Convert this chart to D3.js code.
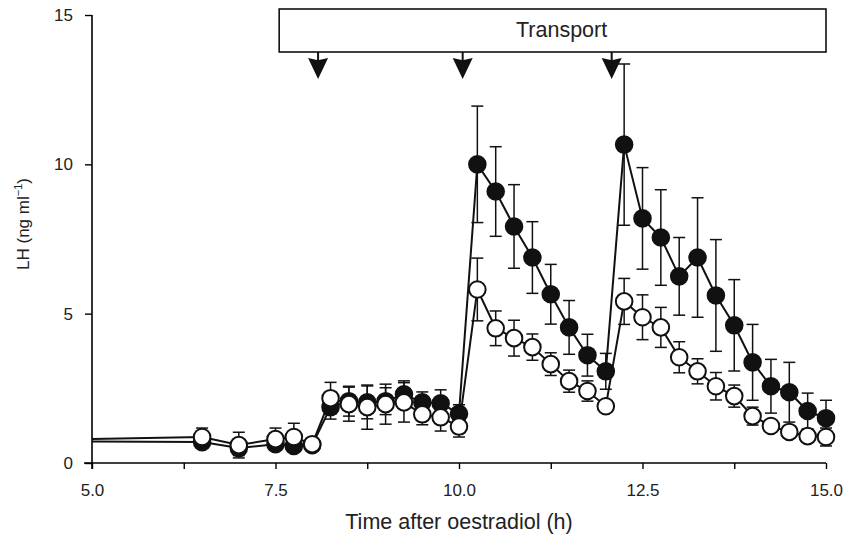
<!DOCTYPE html>
<html>
<head>
<meta charset="utf-8">
<script src="https://cdnjs.cloudflare.com/ajax/libs/d3/7.8.5/d3.min.js"></script>
<style>
  body { margin: 0; background: #fff; }
  svg { font-family: "Liberation Sans", Arial, sans-serif; }
</style>
</head>
<body>
<div id="chart"></div>
<script>
// sampling times (h after oestradiol)
var times = [5.0, 6.5, 7.0, 7.5, 7.75, 8.0, 8.25, 8.5, 8.75, 9.0, 9.25, 9.5, 9.75,
  10.0, 10.25, 10.5, 10.75, 11.0, 11.25, 11.5, 11.75, 12.0,
  12.25, 12.5, 12.75, 13.0, 13.25, 13.5, 13.75, 14.0, 14.25, 14.5, 14.75, 15.0];

// filled circles
var filledMean = [0.72, 0.7, 0.5, 0.63, 0.57, 0.6, 1.87, 2.07, 2.03, 2.07, 2.3, 2.03, 2.0,
  1.65, 10.0, 9.09, 7.92, 6.88, 5.65, 4.54, 3.61, 3.07,
  10.66, 8.19, 7.55, 6.25, 6.88, 5.61, 4.61, 3.37, 2.57, 2.37, 1.74, 1.5];
var filledSE = [0, 0.2, 0.25, 0.2, 0.2, 0.15, 0.4, 0.5, 0.55, 0.45, 0.45, 0.35, 0.45,
  0.3, 1.95, 1.5, 1.4, 1.2, 1.0, 0.9, 0.7, 0.6,
  2.7, 1.7, 1.6, 1.3, 2.0, 1.87, 1.53, 1.27, 0.9, 1.0, 0.6, 0.6];

// open circles
var openMean = [0.8, 0.87, 0.6, 0.8, 0.87, 0.63, 2.17, 1.97, 1.87, 1.97, 2.03, 1.63, 1.53,
  1.22, 5.81, 4.51, 4.18, 3.88, 3.31, 2.74, 2.41, 1.9,
  5.41, 4.88, 4.54, 3.54, 3.07, 2.57, 2.24, 1.57, 1.24, 1.04, 0.9, 0.87];
var openSE = [0, 0.3, 0.43, 0.37, 0.46, 0.15, 0.53, 0.57, 0.74, 0.67, 0.66, 0.35, 0.46,
  0.35, 1.05, 0.58, 0.6, 0.44, 0.38, 0.37, 0.34, 0.15,
  0.77, 0.75, 0.67, 0.52, 0.42, 0.46, 0.37, 0.3, 0.15, 0.15, 0.15, 0.3];

var xTicks = [5.0, 6.25, 7.5, 8.75, 10.0, 11.25, 12.5, 13.75, 15.0];
var xLabels = [5.0, 7.5, 10.0, 12.5, 15.0];
var yTicks = [0, 5, 10, 15];
var arrowTimes = [8.08, 10.05, 12.08];
var boxStart = 7.55, boxEnd = 15.0;

var W = 843, H = 536;
var svg = d3.select("#chart").append("svg")
    .attr("width", W).attr("height", H);

var x = d3.scaleLinear().domain([5, 15]).range([92, 826]);
var y = d3.scaleLinear().domain([0, 15]).range([463, 15]);

// axes
var xAxis = d3.axisBottom(x).tickValues(xTicks).tickSize(6)
    .tickFormat(function(d) { return xLabels.indexOf(d) >= 0 ? d3.format(".1f")(d) : ""; });
var gx = svg.append("g")
    .attr("transform", "translate(0," + y(0) + ")")
    .call(xAxis);
gx.select(".domain").attr("stroke-width", 1.6).attr("d", "M" + (x(5) - 8) + ",0H" + x(15));
gx.selectAll(".tick line").attr("stroke-width", 1.4);
gx.selectAll(".tick text").attr("dy", "1.4em").attr("font-size", 17).attr("fill", "#222");

var yAxis = d3.axisLeft(y).tickValues(yTicks).tickSize(7).tickFormat(d3.format("d"));
var gy = svg.append("g")
    .attr("transform", "translate(" + x(5) + ",0)")
    .call(yAxis);
gy.select(".domain").attr("stroke-width", 1.6).attr("d", "M0," + (y(0) + 6) + "V" + y(15));
gy.selectAll(".tick line").attr("stroke-width", 1.4);
gy.selectAll(".tick text").attr("x", -19).attr("font-size", 17).attr("fill", "#222");

// axis titles
svg.append("text")
    .attr("x", x(10)).attr("y", 529)
    .attr("text-anchor", "middle")
    .attr("font-size", 21.5).attr("fill", "#222")
    .text("Time after oestradiol (h)");

var yl = svg.append("text")
    .attr("transform", "translate(29,224) rotate(-90)")
    .attr("text-anchor", "middle")
    .attr("font-size", 17).attr("fill", "#222");
yl.append("tspan").text("LH (ng ml");
yl.append("tspan").attr("dy", -7).attr("font-size", 11).text("\u22121");
yl.append("tspan").attr("dy", 7).text(")");

// transport box and arrows
svg.append("rect")
    .attr("x", x(boxStart)).attr("y", 9)
    .attr("width", x(boxEnd) - x(boxStart)).attr("height", 43)
    .attr("fill", "#fff").attr("stroke", "#111").attr("stroke-width", 1.6);
svg.append("text")
    .attr("x", (x(boxStart) + x(boxEnd)) / 2 + 9).attr("y", 37)
    .attr("text-anchor", "middle")
    .attr("font-size", 21.5).attr("fill", "#222")
    .text("Transport");

svg.selectAll(".arrow")
    .data(arrowTimes)
    .enter().append("path")
    .attr("class", "arrow")
    .attr("transform", function(d) { return "translate(" + x(d) + ",52)"; })
    .attr("d", "M-1,0H1V8L10,6L0,27L-10,6L-1,8Z")
    .attr("fill", "#111");

// series
var filled = times.map(function(t, i) { return {t: t, m: filledMean[i], se: filledSE[i]}; });
var open = times.map(function(t, i) { return {t: t, m: openMean[i], se: openSE[i]}; });

var line = d3.line()
    .x(function(d) { return x(d.t); })
    .y(function(d) { return y(d.m); });

function drawSeries(data, fill) {
  var g = svg.append("g");
  g.append("path")
      .datum(data)
      .attr("d", line)
      .attr("fill", "none")
      .attr("stroke", "#111")
      .attr("stroke-width", 2);

  var pts = data.filter(function(d) { return d.t > 5; });
  var eb = g.selectAll(".eb").data(pts.filter(function(d) { return d.se > 0; }))
      .enter().append("g").attr("stroke", "#111").attr("stroke-width", 1.5);
  eb.append("line")
      .attr("x1", function(d) { return x(d.t); })
      .attr("x2", function(d) { return x(d.t); })
      .attr("y1", function(d) { return y(d.m + d.se); })
      .attr("y2", function(d) { return y(d.m - d.se); });
  eb.append("line")
      .attr("x1", function(d) { return x(d.t) - 6; })
      .attr("x2", function(d) { return x(d.t) + 6; })
      .attr("y1", function(d) { return y(d.m + d.se); })
      .attr("y2", function(d) { return y(d.m + d.se); });
  eb.append("line")
      .attr("x1", function(d) { return x(d.t) - 6; })
      .attr("x2", function(d) { return x(d.t) + 6; })
      .attr("y1", function(d) { return y(d.m - d.se); })
      .attr("y2", function(d) { return y(d.m - d.se); });

  g.selectAll(".pt").data(pts)
      .enter().append("circle")
      .attr("cx", function(d) { return x(d.t); })
      .attr("cy", function(d) { return y(d.m); })
      .attr("r", 8.3)
      .attr("fill", fill)
      .attr("stroke", "#111")
      .attr("stroke-width", 2);
}

drawSeries(filled, "#111");
drawSeries(open, "#fff");
</script>
</body>
</html>
